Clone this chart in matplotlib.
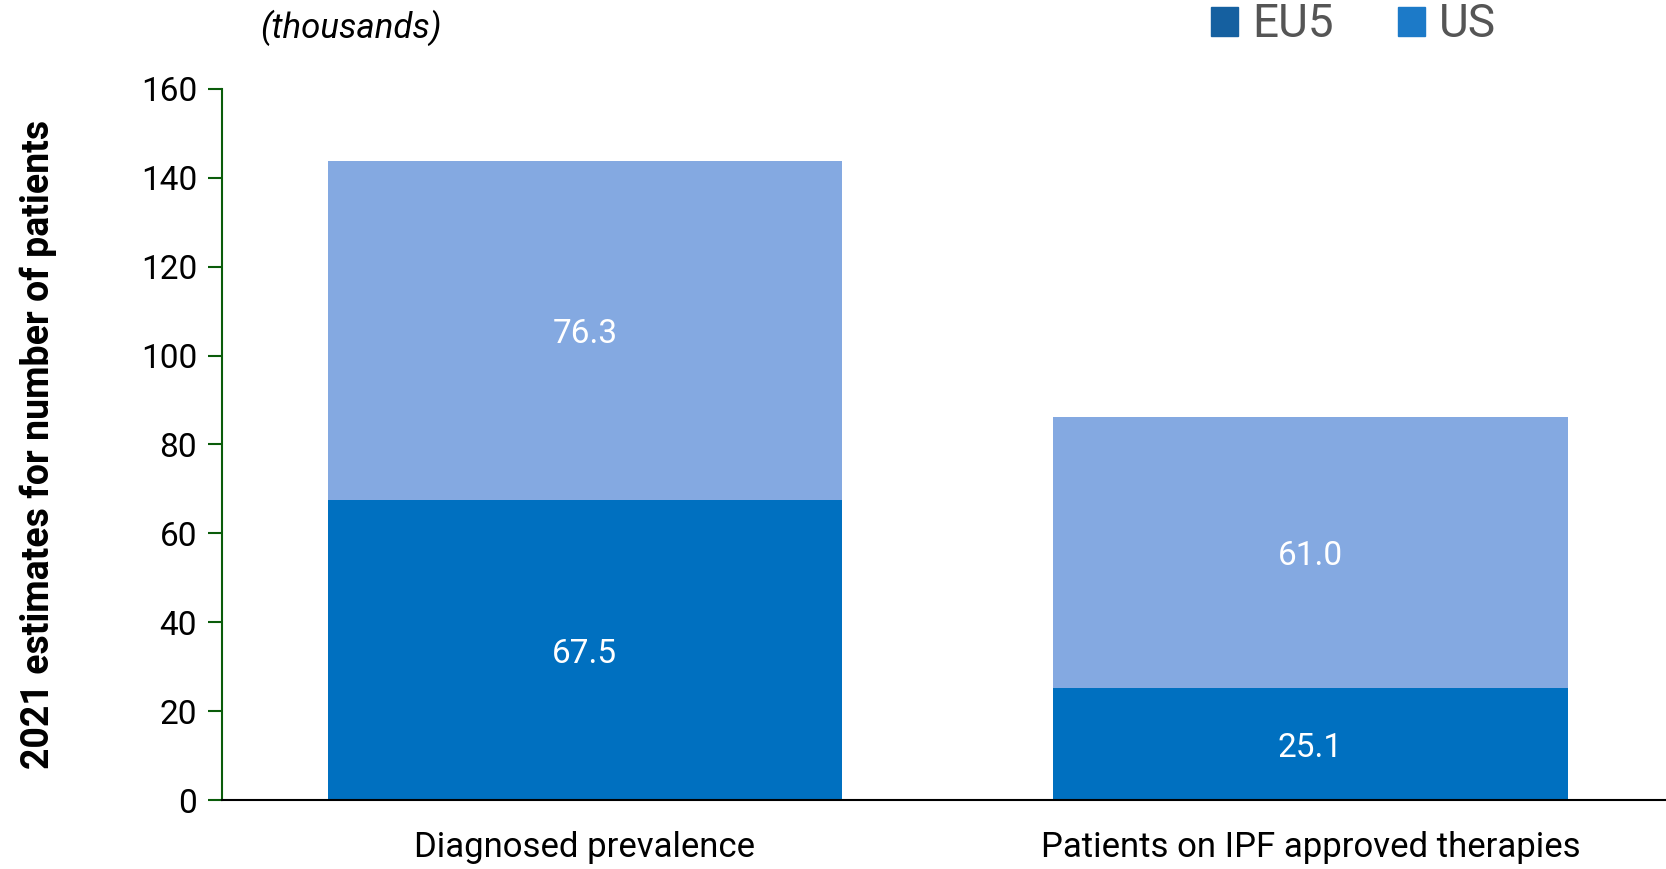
import matplotlib
matplotlib.use("Agg")
import matplotlib.pyplot as plt
from matplotlib.patches import Patch

plt.rcParams['font.family'] = ['Roboto', 'DejaVu Sans']

categories = ['Diagnosed prevalence', 'Patients on IPF approved therapies']
eu5 = [67.5, 25.1]
us = [76.3, 61.0]
yticks = [0, 20, 40, 60, 80, 100, 120, 140, 160]

dark_blue = '#0070c0'
light_blue = '#84a9e1'

fig = plt.figure(figsize=(16.66, 8.69), dpi=100)
ax = fig.add_axes([0.1333, 0.0794, 0.8667, 0.8182])

x = list(range(len(categories)))
ax.bar(x, eu5, width=0.709, color=dark_blue, zorder=2)
ax.bar(x, us, width=0.709, bottom=eu5, color=light_blue, zorder=2)

# value labels, white, centred in each segment
for i in x:
    ax.text(i, eu5[i] / 2, f'{eu5[i]:.1f}', ha='center', va='center_baseline',
            color='white', fontsize=24)
    ax.text(i, eu5[i] + us[i] / 2, f'{us[i]:.1f}', ha='center', va='center_baseline',
            color='white', fontsize=24)

ax.set_xlim(-0.5, 1.49)
ax.set_ylim(0, 160)
ax.set_yticks(yticks)
ax.set_xticks(x)
ax.set_xticklabels(categories, fontsize=25)
ax.tick_params(axis='x', length=0, pad=22)
ax.tick_params(axis='y', labelsize=24, length=10, width=1.5, color='#0a5c0a', pad=8)

for s in ['top', 'right']:
    ax.spines[s].set_visible(False)
ax.spines['left'].set_color('#0a5c0a')
ax.spines['left'].set_linewidth(1.5)
ax.spines['bottom'].set_color('black')
ax.spines['bottom'].set_linewidth(1.5)
ax.spines['bottom'].set_zorder(3)

ax.set_ylabel('2021 estimates for number of patients', fontsize=27,
              fontweight='bold', labelpad=60)

fig.text(0.156, 0.968, '(thousands)', fontsize=25, style='italic',
         ha='left', va='center')

handles = [Patch(color='#1560a0', label='EU5'), Patch(color='#1c7ac8', label='US')]
fig.legend(handles=handles, loc='center', bbox_to_anchor=(0.8125, 0.972), ncol=2,
           frameon=False, fontsize=33, handlelength=0.6, handleheight=0.6,
           handletextpad=0.3, columnspacing=1.4, labelcolor='#555555')

fig.savefig('out.png', dpi=100)
